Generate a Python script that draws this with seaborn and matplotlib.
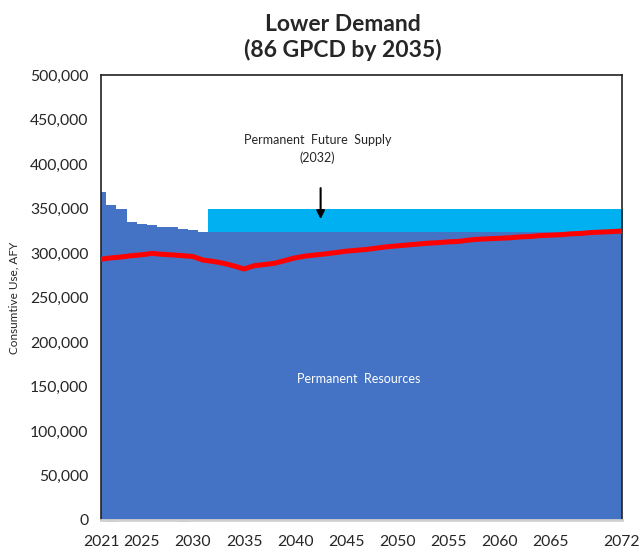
import numpy as np
import pandas as pd
import matplotlib
matplotlib.use("Agg")
import matplotlib.pyplot as plt
import seaborn as sns

# ---- data ----
years = list(range(2021, 2073))
permanent_base = 323600
# early-year supplies above permanent base (total height)
early_years = [2021, 2022, 2023, 2024, 2025, 2026, 2027, 2028, 2029, 2030, 2031]
early_totals = [368500, 354000, 349400, 335000, 333000, 331500, 329000, 329000, 327000, 325500, 323600]
future_start = 2032
future_top = 349400
demand = [293000, 294500, 295500, 297000, 298000, 299500, 298500, 297800, 297000, 296000,
          292000, 290500, 288400, 285500, 282000, 285700, 287000, 288500, 291500, 294500,
          296500, 297800, 299000, 300500, 302000, 303000, 304000, 305500, 307000, 308000,
          309000, 310000, 311000, 311600, 312500, 313000, 314500, 315500, 316000, 316500,
          317000, 318000, 318500, 319500, 320000, 320500, 321500, 322000, 323000, 323500,
          324000, 324700]
small_neg_years = [2022, 2029]
small_neg_vals = [-2500, -2500]
xtick_years = [2021, 2025, 2030, 2035, 2040, 2045, 2050, 2055, 2060, 2065, 2072]
ytick_vals = list(range(0, 500001, 50000))

sns.set_theme(style="white")
plt.rcParams['font.family'] = ['Lato', 'DejaVu Sans']

fig = plt.figure(figsize=(6.42, 5.55), dpi=100)
ax = fig.add_axes([0.1573, 0.0631, 0.8115, 0.8018])

blue = "#4472C4"
cyan = "#00B0F0"

# permanent resources (with early-year extras)
totals = []
for y in years:
    if y in early_years:
        totals.append(early_totals[early_years.index(y)])
    else:
        totals.append(permanent_base)
ax.fill_between(years, 0, totals, step="mid", color=blue, linewidth=0, zorder=1)

# future supply
fut_years = [y for y in years if y >= future_start]
fut_x = [future_start - 0.5] + fut_years + [2072.5]
ax.fill_between(fut_x, permanent_base, future_top, color=cyan, linewidth=0, zorder=1)

# small negative marks below axis
ax.bar(small_neg_years, small_neg_vals, width=1.0, color="#5B86D0", clip_on=False, zorder=0)

# demand line
df = pd.DataFrame({"year": years, "demand": demand})
sns.lineplot(data=df, x="year", y="demand", ax=ax, color="#FF0000", linewidth=3.6, zorder=3)

ax.set_xlim(2021, 2072)
ax.set_ylim(0, 500000)
ax.set_xticks(xtick_years)
ax.set_xticklabels([str(y) for y in xtick_years], fontsize=11.3)
ax.set_yticks(ytick_vals)
ax.set_yticklabels([f"{v:,}" for v in ytick_vals], fontsize=11.3)
ax.tick_params(axis="both", length=0)
ax.tick_params(axis="y", pad=9)
ax.tick_params(axis="x", pad=11)
ax.set_xlabel("")
ax.set_ylabel("Consumtive Use, AFY", fontsize=8.5, labelpad=8)

for s in ["top", "left", "right"]:
    ax.spines[s].set_color("#222222")
    ax.spines[s].set_linewidth(1.2)
ax.spines["bottom"].set_color("#D0D0D0")
ax.spines["bottom"].set_linewidth(2)

ax.set_title("Lower Demand\n(86 GPCD by 2035)", fontsize=16.5, fontweight="bold", pad=13,
             linespacing=1.2, x=0.465)

ax.annotate("", xy=(2042.5, 335000), xytext=(2042.5, 376000),
            arrowprops=dict(arrowstyle="-|>", color="black", lw=1.5, mutation_scale=12), zorder=4)
ax.text(2042.2, 417000, "Permanent  Future  Supply\n(2032)", ha="center", va="center",
        fontsize=9, linespacing=1.5, zorder=4)
ax.text(2046.2, 158000, "Permanent  Resources", ha="center", va="center",
        fontsize=9, color="white", zorder=4)

fig.savefig("out.png", dpi=100)
